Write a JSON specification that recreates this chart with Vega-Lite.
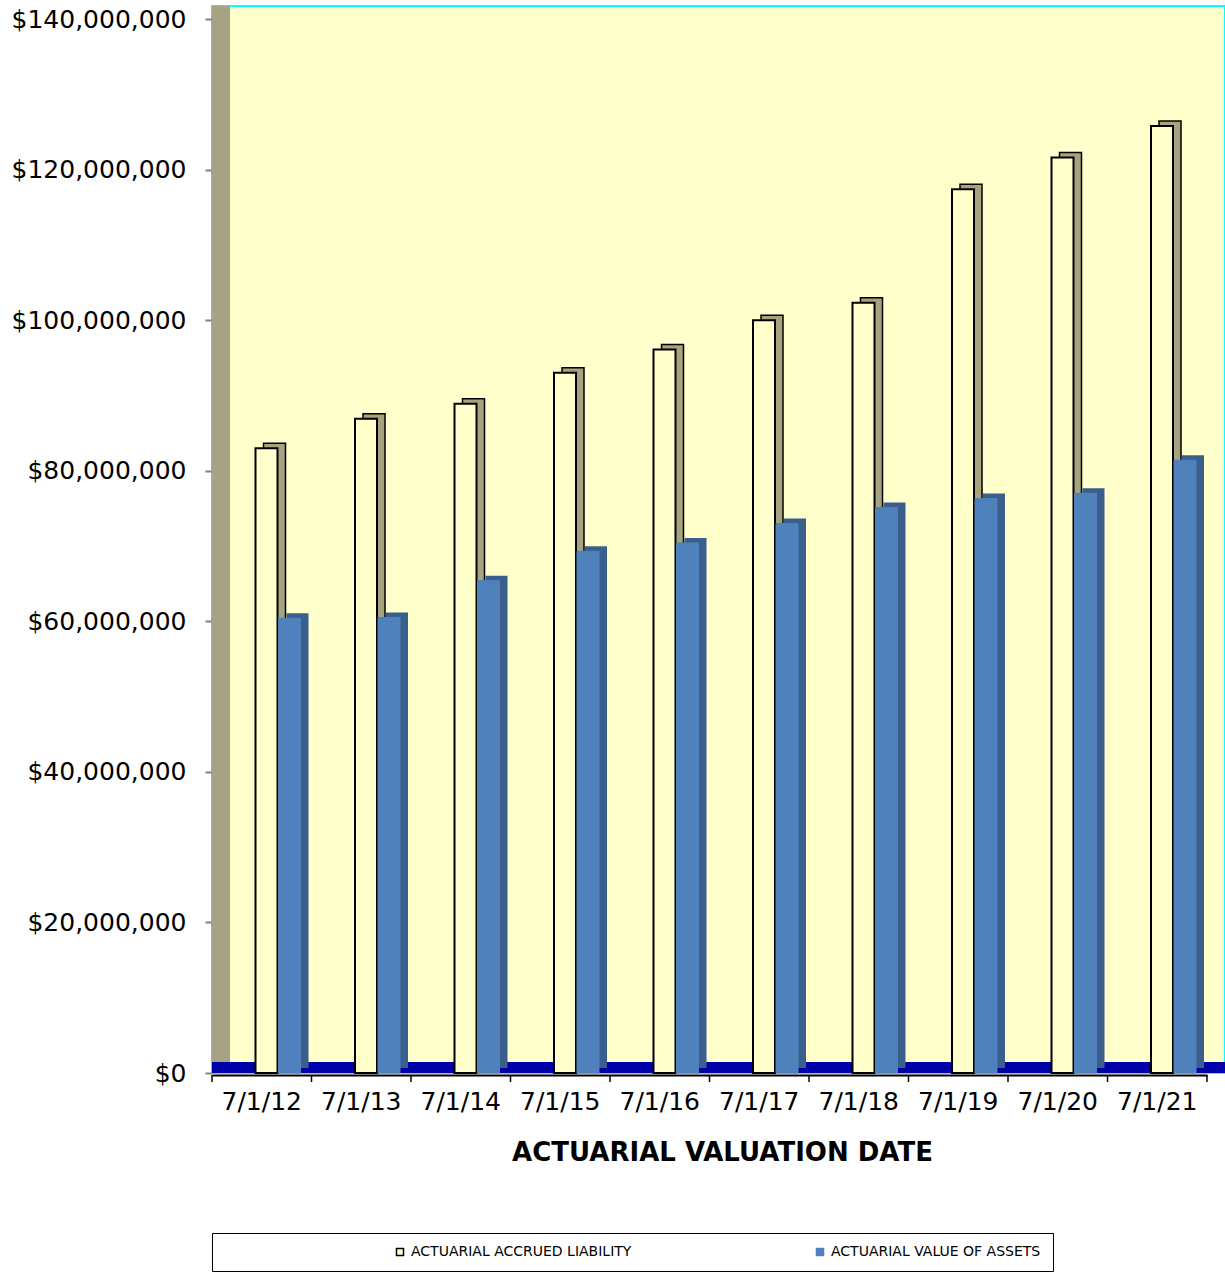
{
  "$schema": "https://vega.github.io/schema/vega-lite/v6.json",
  "autosize": "none",
  "width": 1013,
  "height": 1067,
  "padding": {"left": 212, "top": 6, "right": 0, "bottom": 199},
  "background": "#FFFFFF",
  "config": {
    "font": "DejaVu Sans",
    "view": {"fill": "#FFFFCC", "stroke": "#00FFFF", "strokeWidth": 2}
  },
  "data": {
    "values": [
      {"date": "7/1/12", "series": "ACTUARIAL ACCRUED LIABILITY", "value": 83000000},
      {"date": "7/1/13", "series": "ACTUARIAL ACCRUED LIABILITY", "value": 86900000},
      {"date": "7/1/14", "series": "ACTUARIAL ACCRUED LIABILITY", "value": 88900000},
      {"date": "7/1/15", "series": "ACTUARIAL ACCRUED LIABILITY", "value": 93000000},
      {"date": "7/1/16", "series": "ACTUARIAL ACCRUED LIABILITY", "value": 96100000},
      {"date": "7/1/17", "series": "ACTUARIAL ACCRUED LIABILITY", "value": 100000000},
      {"date": "7/1/18", "series": "ACTUARIAL ACCRUED LIABILITY", "value": 102300000},
      {"date": "7/1/19", "series": "ACTUARIAL ACCRUED LIABILITY", "value": 117400000},
      {"date": "7/1/20", "series": "ACTUARIAL ACCRUED LIABILITY", "value": 121600000},
      {"date": "7/1/21", "series": "ACTUARIAL ACCRUED LIABILITY", "value": 125800000},
      {"date": "7/1/12", "series": "ACTUARIAL VALUE OF ASSETS", "value": 60400000},
      {"date": "7/1/13", "series": "ACTUARIAL VALUE OF ASSETS", "value": 60500000},
      {"date": "7/1/14", "series": "ACTUARIAL VALUE OF ASSETS", "value": 65400000},
      {"date": "7/1/15", "series": "ACTUARIAL VALUE OF ASSETS", "value": 69300000},
      {"date": "7/1/16", "series": "ACTUARIAL VALUE OF ASSETS", "value": 70400000},
      {"date": "7/1/17", "series": "ACTUARIAL VALUE OF ASSETS", "value": 73000000},
      {"date": "7/1/18", "series": "ACTUARIAL VALUE OF ASSETS", "value": 75100000},
      {"date": "7/1/19", "series": "ACTUARIAL VALUE OF ASSETS", "value": 76300000},
      {"date": "7/1/20", "series": "ACTUARIAL VALUE OF ASSETS", "value": 77000000},
      {"date": "7/1/21", "series": "ACTUARIAL VALUE OF ASSETS", "value": 81400000}
    ]
  },
  "layer": [
    {
      "transform": [{"filter": "datum.date === '7/1/12' && datum.series === 'ACTUARIAL VALUE OF ASSETS'"}],
      "mark": {"type": "rule", "color": "#A5A383", "strokeWidth": 18, "xOffset": 9, "y2Offset": -13, "strokeCap": "butt"},
      "encoding": {
        "x": {"datum": "7/1/12", "type": "nominal", "bandPosition": 0},
        "y": {"datum": 0, "type": "quantitative"},
        "y2": {"datum": 140000000}
      }
    },
    {
      "transform": [{"filter": "datum.date === '7/1/12' && datum.series === 'ACTUARIAL VALUE OF ASSETS'"}],
      "mark": {"type": "rule", "color": "#0000A8", "strokeWidth": 11, "yOffset": -5.5, "strokeCap": "butt"},
      "encoding": {
        "y": {"datum": 0, "type": "quantitative"}
      }
    },
    {
      "description": "tick marks on the category boundaries below the floor",
      "transform": [{"filter": "datum.series === 'ACTUARIAL VALUE OF ASSETS'"}],
      "mark": {"type": "rule", "color": "#000000", "strokeWidth": 1.5, "yOffset": 2, "y2Offset": 9},
      "encoding": {
        "x": {"field": "date", "type": "nominal", "bandPosition": 0},
        "y": {"datum": 0, "type": "quantitative"},
        "y2": {"datum": 0}
      }
    },
    {
      "transform": [{"filter": "datum.date === '7/1/21' && datum.series === 'ACTUARIAL VALUE OF ASSETS'"}],
      "mark": {"type": "rule", "color": "#000000", "strokeWidth": 1.5, "yOffset": 2, "y2Offset": 9},
      "encoding": {
        "x": {"field": "date", "type": "nominal", "bandPosition": 1},
        "y": {"datum": 0, "type": "quantitative"},
        "y2": {"datum": 0}
      }
    },
    {
      "transform": [{"filter": "datum.series === 'ACTUARIAL ACCRUED LIABILITY'"}],
      "mark": {"type": "bar", "width": 22, "xOffset": 12.75, "yOffset": -5, "y2Offset": -5, "fill": "#A5A47E", "stroke": "#000000", "strokeWidth": 1.5},
      "encoding": {
        "x": {
          "field": "date", "type": "nominal", "sort": null,
          "scale": {
            "domain": ["7/1/12", "7/1/13", "7/1/14", "7/1/15", "7/1/16", "7/1/17", "7/1/18", "7/1/19", "7/1/20", "7/1/21"],
            "range": [0, 995], "paddingInner": 0, "paddingOuter": 0
          },
          "axis": {
            "title": "ACTUARIAL VALUATION  DATE",
            "titleFont": "DejaVu Sans", "titleFontWeight": "bold", "titleFontSize": 26, "titleColor": "#000000",
            "titleX": 510, "titleY": 64, "titleBaseline": "top", "titleAlign": "center", "titleAnchor": null,
            "labelFont": "DejaVu Sans", "labelFontSize": 25, "labelColor": "#000000", "labelAngle": 0, "labelAlign": "center", "labelPadding": 26,
            "ticks": false,
            "domainColor": "#000000", "domainWidth": 2, "offset": 2
          }
        },
        "y": {
          "field": "value", "type": "quantitative",
          "scale": {"domain": [0, 140000000], "range": [1067, 13], "nice": false, "zero": true},
          "axis": {
            "title": null,
            "values": [0, 20000000, 40000000, 60000000, 80000000, 100000000, 120000000, 140000000],
            "format": "$,.0f",
            "labelFont": "DejaVu Sans", "labelFontSize": 25, "labelColor": "#000000", "labelPadding": 19,
            "tickSize": 7, "tickColor": "#808080", "tickWidth": 2,
            "domainColor": "#00E5E5", "domainWidth": 2, "grid": false
          }
        }
      }
    },
    {
      "transform": [{"filter": "datum.series === 'ACTUARIAL ACCRUED LIABILITY'"}],
      "mark": {"type": "bar", "width": 22, "xOffset": 4.75, "strokeWidth": 2},
      "encoding": {
        "x": {"field": "date", "type": "nominal", "sort": null},
        "y": {"field": "value", "type": "quantitative"},
        "color": {
          "field": "series", "type": "nominal",
          "scale": {"domain": ["ACTUARIAL ACCRUED LIABILITY", "ACTUARIAL VALUE OF ASSETS"], "range": ["#FFFFCC", "#4F81BD"]},
          "legend": {
            "title": null, "orient": "none", "legendX": 0, "legendY": 1227, "direction": "horizontal",
            "strokeColor": "#000000", "padding": 12, "symbolOffset": 169, "labelOffset": 4, "columnPadding": 12,
            "symbolType": "square", "symbolSize": 49, "symbolStrokeWidth": 1.5,
            "labelFont": "DejaVu Sans", "labelFontSize": 14, "labelColor": "#000000", "labelLimit": 400
          }
        },
        "stroke": {
          "field": "series", "type": "nominal",
          "scale": {"domain": ["ACTUARIAL ACCRUED LIABILITY", "ACTUARIAL VALUE OF ASSETS"], "range": ["#000000", "#4F81BD"]},
          "legend": null
        }
      }
    },
    {
      "transform": [{"filter": "datum.series === 'ACTUARIAL VALUE OF ASSETS'"}],
      "mark": {"type": "bar", "width": 22, "xOffset": 35.75, "yOffset": -5, "y2Offset": -5, "fill": "#3A5F8C"},
      "encoding": {
        "x": {"field": "date", "type": "nominal", "sort": null},
        "y": {"field": "value", "type": "quantitative"}
      }
    },
    {
      "transform": [{"filter": "datum.series === 'ACTUARIAL VALUE OF ASSETS'"}],
      "mark": {"type": "bar", "width": 22, "xOffset": 27.75, "strokeWidth": 1},
      "encoding": {
        "x": {"field": "date", "type": "nominal", "sort": null},
        "y": {"field": "value", "type": "quantitative"},
        "color": {"field": "series", "type": "nominal"},
        "stroke": {"field": "series", "type": "nominal", "legend": null}
      }
    }
  ]
}
